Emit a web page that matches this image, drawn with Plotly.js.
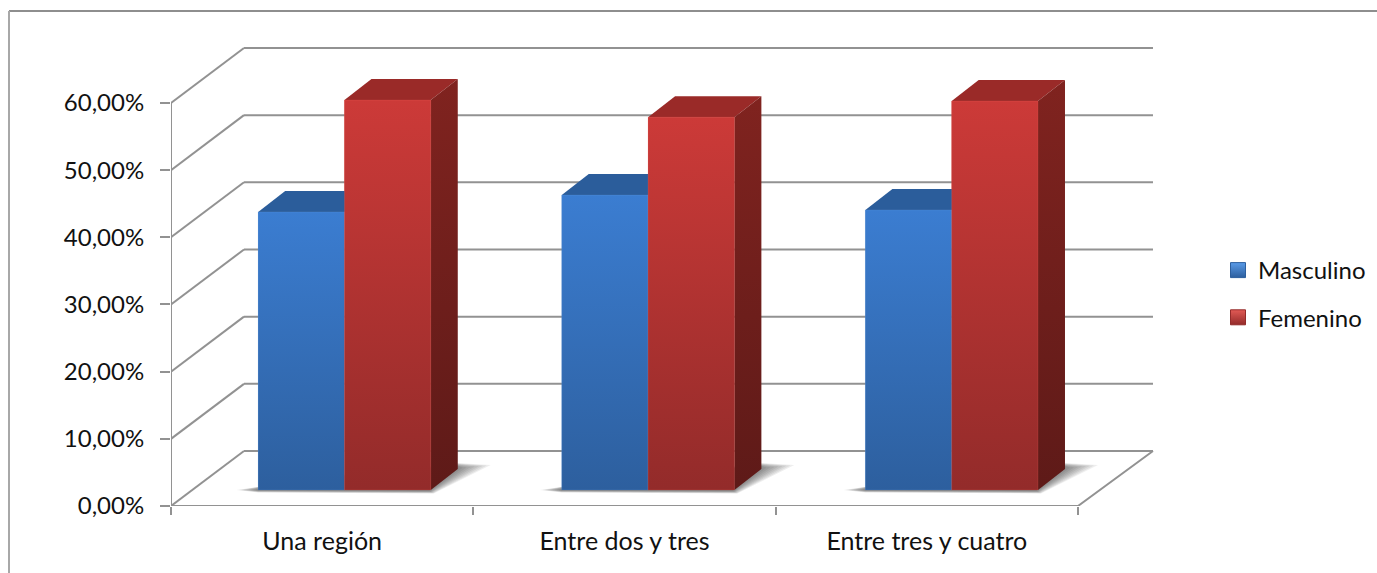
<!DOCTYPE html>
<html>
<head>
<meta charset="utf-8">
<script src="https://cdn.plot.ly/plotly-3.0.1.min.js"></script>
<style>html,body{margin:0;padding:0;background:#fff;overflow:hidden}#chart{width:1377px;height:573px}</style>
</head>
<body>
<div id="chart"></div>
<script>
var categories = ['Una región', 'Entre dos y tres', 'Entre tres y cuatro'];
var masculino = [41.4, 43.9, 41.7];
var femenino = [58.05, 55.5, 57.9];
var yTicks = [0, 10, 20, 30, 40, 50, 60];
var yTickLabels = ['0,00%', '10,00%', '20,00%', '30,00%', '40,00%', '50,00%', '60,00%'];

// plot frame in pixels
var W = 1377, H = 573, L = 171, R = 1160, T = 40, B = 506;
var PXX = 302.33, PXY = 6.717;
var ux = function (p) { return p / PXX; }, uy = function (p) { return p / PXY; };
var xMin = -0.5, xMax = xMin + (R - L) / PXX, yMax = (B - T) / PXY;
var wallDX = ux(73), wallEndDX = ux(75), wallDY = uy(55);
var barDX = ux(27), barDY = uy(21), barW = ux(86.3), floorY = uy(16);
var shift = function (i) { return ux(22.3 + 1.28 * i); };

var GRID = '#929292';
var BLUE = { front: [[0, '#2D5F9E'], [1, '#3B7DD1']], top: '#2B5D9B', side: [[0, '#1F4470'], [1, '#285288']], mid: '#3570B8', edge: 'rgba(120,170,235,0.18)' };
var RED = { front: [[0, '#932B2A'], [1, '#CC3A38']], top: '#9A2A28', side: [[0, '#5E1A18'], [1, '#80231F']], mid: '#B33432', edge: 'rgba(255,110,100,0.18)' };

var traces = [];
function addBar(name, vals, off) {
  traces.push({ type: 'bar', name: name, x: categories, y: vals, base: vals.map(function () { return floorY; }),
    offset: vals.map(function (_, i) { return shift(i) + off; }), width: barW,
    marker: { color: off < 0 ? BLUE.mid : RED.mid, line: { width: 0 } }, showlegend: false, hoverinfo: 'x+y' });
}
addBar('Masculino', masculino, -barW);
addBar('Femenino', femenino, 0);

function poly(xs, ys, opt) {
  var t = { type: 'scatter', mode: 'lines', xaxis: 'x2', yaxis: 'y', x: xs.concat(xs[0]), y: ys.concat(ys[0]), fill: 'toself',
    line: { width: opt.edge ? 1 : 0, color: opt.edge || 'rgba(0,0,0,0)' }, showlegend: false, hoverinfo: 'skip' };
  if (opt.grad) { t.fillgradient = { type: 'vertical', colorscale: opt.grad }; t.fillcolor = opt.grad[1][1]; }
  else { t.fillcolor = opt.color; }
  return t;
}
function drawBox(i, value, off, c, withSide) {
  var x0 = i + shift(i) + off, x1 = x0 + barW, y0 = floorY, y1 = floorY + value;
  traces.push(poly([x0, x1, x1 + barDX, x0 + barDX], [y1, y1, y1 + barDY, y1 + barDY], { color: c.top }));
  if (withSide) traces.push(poly([x1, x1 + barDX, x1 + barDX, x1], [y0, y0 + barDY, y1 + barDY, y1], { grad: c.side }));
  traces.push(poly([x0, x1, x1, x0], [y0, y0, y1, y1], { grad: c.front, edge: c.edge }));
}
categories.forEach(function (_, i) {
  drawBox(i, masculino[i], -barW, BLUE, false);
  drawBox(i, femenino[i], 0, RED, true);
});

// front axis lines, drawn unclipped
traces.push({ type: 'scatter', mode: 'lines', xaxis: 'x2', yaxis: 'y', cliponaxis: false,
  x: [xMin, xMin, xMin + 3, xMin + 3 + wallEndDX], y: [60, 0, 0, wallDY],
  line: { color: GRID, width: 2 }, showlegend: false, hoverinfo: 'skip' });

// legend entries
traces.push({ type: 'scatter', mode: 'markers', name: 'Masculino', legendgroup: 'm', x: [null], y: [null], xaxis: 'x2', yaxis: 'y',
  marker: { symbol: 'square', size: 15, color: '#5A9BE8', gradient: { type: 'vertical', color: '#2D5F9E' }, line: { color: '#2D5F9E', width: 1 } } });
traces.push({ type: 'scatter', mode: 'markers', name: 'Femenino', legendgroup: 'f', x: [null], y: [null], xaxis: 'x2', yaxis: 'y',
  marker: { symbol: 'square', size: 15, color: '#E25A55', gradient: { type: 'vertical', color: '#932B2A' }, line: { color: '#932B2A', width: 1 } } });

// walls and floor
var shapes = [];
function seg(x0, y0, x1, y1) {
  shapes.push({ type: 'line', xref: 'x2', yref: 'y', layer: 'below', x0: x0, y0: y0, x1: x1, y1: y1, line: { color: GRID, width: 2 } });
}
yTicks.forEach(function (v) {
  seg(xMin, v, xMin + wallDX, v + wallDY);
  seg(xMin + wallDX, v + wallDY, xMin + 3 + wallEndDX, v + wallDY);
});
// soft floor shadows: nested translucent outlines that build up towards the bars
categories.forEach(function (_, i) {
  var bl = i + shift(i) - barW, br = i + shift(i) + barW;
  [0, 1, 2, 3, 4, 5, 6, 7, 8, 9].forEach(function (k) {
    var pts = [
      [bl + ux(-22 + 2.4 * k), floorY + uy(0)],
      [bl, floorY + uy(-2.5 + 0.25 * k)],
      [br + ux(3 - 0.5 * k), floorY + uy(-3.5 + 0.3 * k)],
      [br + ux(60 - 4 * k), floorY + uy(25 - 0.4 * k)],
      [br + ux(27), floorY + uy(27 - 0.4 * k)],
      [bl + ux(34), floorY + uy(8 + 0.5 * k)]
    ];
    var path = pts.map(function (p, n) { return (n ? 'L' : 'M') + p[0] + ',' + p[1]; }).join(' ') + ' Z';
    shapes.push({ type: 'path', xref: 'x2', yref: 'y', layer: 'below', path: path, fillcolor: 'rgba(0,0,0,0.065)', line: { width: 0 } });
  });
});
// outer chart border: top and left edges only
var px = function (p) { return (p - L) / (R - L); }, py = function (p) { return (B - p) / (B - T); };
shapes.push({ type: 'line', xref: 'paper', yref: 'paper', layer: 'below', x0: px(9), y0: py(11), x1: px(W), y1: py(11), line: { color: '#8E8E8E', width: 2 } });
shapes.push({ type: 'line', xref: 'paper', yref: 'paper', layer: 'below', x0: px(9), y0: py(11), x1: px(9), y1: py(H), line: { color: '#A8A8A8', width: 2 } });

var FONT = 'Lato, "Open Sans", sans-serif';
var SIZE = 24;
var layout = {
  width: W, height: H, paper_bgcolor: '#fff', plot_bgcolor: 'rgba(0,0,0,0)',
  barmode: 'overlay', hovermode: 'closest',
  margin: { l: L, r: W - R, t: T, b: H - B, pad: 0, autoexpand: false },
  font: { family: FONT, size: SIZE, color: '#111' },
  xaxis: { type: 'category', categoryorder: 'array', categoryarray: categories, range: [xMin, xMax], tickson: 'boundaries',
    ticks: 'outside', ticklen: 8, tickwidth: 2, tickcolor: GRID, showline: false, showgrid: false, zeroline: false,
    tickfont: { family: FONT, size: 25, color: '#111' }, ticklabelstandoff: 18, fixedrange: true },
  xaxis2: { type: 'linear', overlaying: 'x', anchor: 'y', range: [xMin, xMax], visible: false, fixedrange: true },
  yaxis: { type: 'linear', range: [0, yMax], tickmode: 'array', tickvals: yTicks, ticktext: yTickLabels,
    ticks: 'outside', ticklen: 10, tickwidth: 2, tickcolor: GRID, showline: false, showgrid: false, zeroline: false,
    tickfont: { family: FONT, size: SIZE, color: '#111' }, ticklabelstandoff: 11, fixedrange: true },
  legend: { x: (1218 - L) / (R - L), xanchor: 'left', y: py(248), yanchor: 'top', tracegroupgap: 13, bgcolor: 'rgba(0,0,0,0)',
    font: { family: FONT, size: SIZE, color: '#111' }, itemclick: false, itemdoubleclick: false },
  shapes: shapes
};
Plotly.newPlot('chart', traces, layout, { displayModeBar: false, responsive: false });
</script>
</body>
</html>
